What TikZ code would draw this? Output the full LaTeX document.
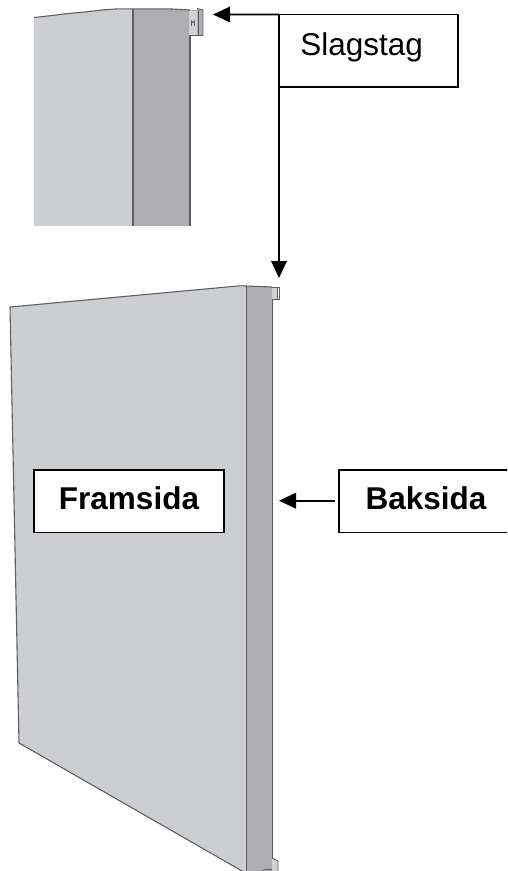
\documentclass[tikz,border=0pt]{standalone}
\usepackage{fontspec}
\setmainfont{Liberation Sans}
\usetikzlibrary{arrows.meta}
\definecolor{frontc}{HTML}{CDCED2}
\definecolor{sidec}{HTML}{AEADB1}
\definecolor{edgec}{HTML}{5F5F62}
\definecolor{tabc}{HTML}{D2D2D4}
\tikzset{
  label box/.style={draw=black,fill=white,line width=1.8pt,inner sep=0pt,outer sep=0pt,
    font=\fontsize{31.5pt}{34pt}\selectfont},
  slag text/.style={text height=20pt,text depth=11.4pt},
  bold text/.style={text height=24pt,text depth=7.8pt,font=\fontsize{31.5pt}{34pt}\selectfont\bfseries},
  pointer/.style={line width=1.8pt,-{Triangle[length=17pt,width=15.5pt]}},
  front/.style={fill=frontc},
  side/.style={fill=sidec},
  edge line/.style={draw=edgec,line width=1.1pt},
  rib/.style={draw=edgec,line width=1.5pt}
}
\begin{document}
\begin{tikzpicture}[x=1pt,y=-1pt]
\useasboundingbox (0,0) rectangle (507,871);
\clip (0,0) rectangle (507,871);
% upper close-up panel
\path[front] (34,226) -- (34,17.5) -- (52,15.5) -- (68,13.5) -- (85,12) -- (102,10) -- (118,8.8) -- (133,8.8) -- (133,226) -- cycle;
\path[side] (133,226) -- (133,8.8) -- (168,8.8) -- (197,10) -- (197,35) -- (190,35) -- (190,226) -- cycle;
\draw[edge line] (34,17.5) -- (52,15.5) -- (68,13.5) -- (85,12) -- (102,10) -- (118,8.8) -- (168,8.8) -- (190,10);
\draw[rib] (133,9) -- (133,226);
\draw[edge line] (190,35) -- (190,226);
\path[fill=tabc] (189,11) rectangle (197,35);
\path[fill=sidec] (197,9) rectangle (203,35);
\draw[edge line,line width=.9pt] (189,35.5) -- (203,35.5) -- (203,10) -- (197,8.5);
\draw[edge line,line width=1.6pt] (198.5,9.5) -- (198.5,35);
\draw[edge line,line width=.9pt] (191.5,26) -- (191.5,21) arc[start angle=180,end angle=0,radius=1.5] -- (194.5,26);
% lower full panel
\path[front] (10,307) -- (240,285.8) -- (247,285.8) -- (247,871) -- (242,871) -- (19,743) -- cycle;
\path[side] (247,285.8) -- (273,287) -- (273,871) -- (247,871) -- cycle;
\draw[edge line] (19,743) -- (10,307) -- (240,285.8) -- (272,287);
\draw[edge line] (19,743) -- (242,871);
\draw[rib] (246.5,286) -- (246.5,871);
\draw[edge line] (272.7,299) -- (272.7,858);
\path[fill=tabc] (272,288) rectangle (277,299);
\draw[edge line,line width=.9pt] (272,299.5) -- (279,299.5) -- (279,287) -- (272,287);
\draw[edge line,line width=.9pt] (277,288) -- (277,299);
\path[fill=tabc] (272,858) -- (278,861) -- (278,871) -- (272,871) -- cycle;
\draw[edge line,line width=.9pt] (272,858) -- (278,861) -- (278,871);
\draw[edge line,line width=.9pt] (262,871) -- (266,869.5) -- (272,869.5);
% labels
\node[label box,slag text,minimum width=179pt,minimum height=72.5pt] (slag) at (368.5,50.7) {\hspace*{-13.6pt}Slagstag};
\node[label box,bold text,minimum width=190pt,minimum height=62.5pt] (fram) at (129,501.2) {Framsida};
\node[label box,bold text,minimum width=190pt,minimum height=62.5pt] (bak) at (434,501.2) {\hspace*{-16pt}Baksida};
% connectors
\coordinate (tiptop) at (213,14.5);
\coordinate (tipmid) at (279,278);
\coordinate (tipbak) at (279,500.7);
\coordinate (bakstart) at (335,500.7);
\draw[pointer] (slag.north west) -- (tiptop);
\draw[pointer] (slag.south west) -- (tipmid);
\draw[pointer] (bakstart) -- (tipbak);
\end{tikzpicture}
\end{document}
